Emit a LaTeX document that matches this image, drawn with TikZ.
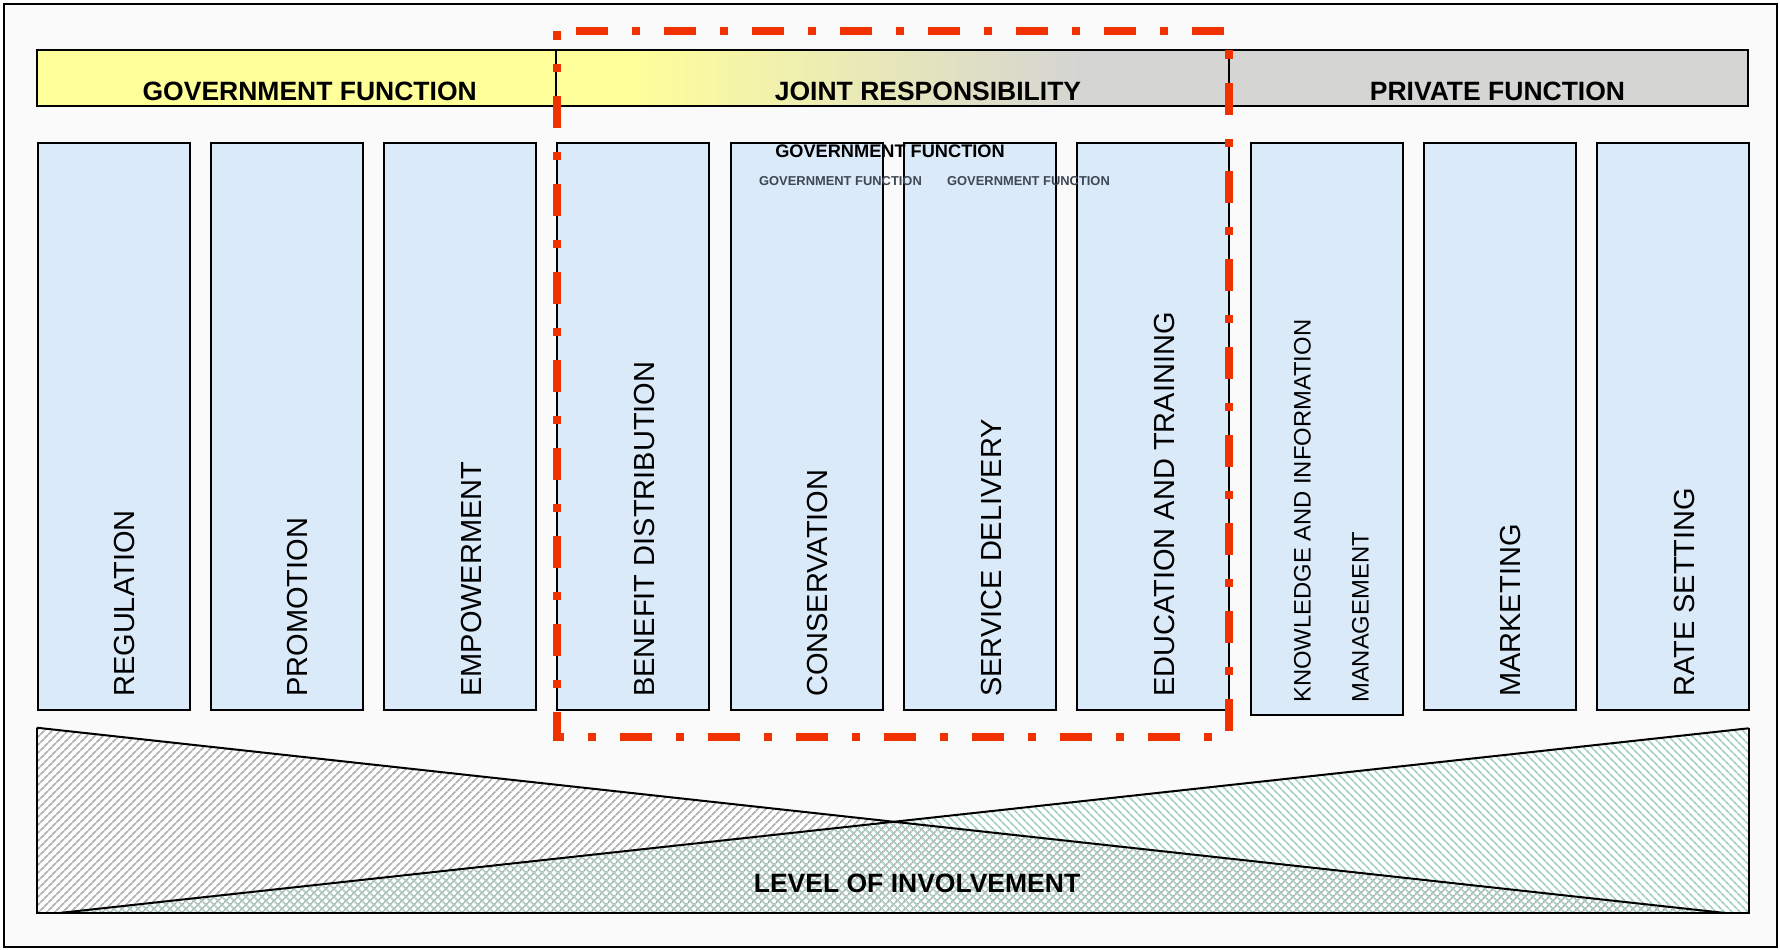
\documentclass[tikz,border=0pt]{standalone}
\usepackage{fontspec}
\setmainfont{Liberation Sans}
\usepackage{xcolor}
\usetikzlibrary{positioning,patterns.meta}

\definecolor{colblue}{HTML}{DBEAF9}
\definecolor{govyellow}{HTML}{FFFF99}
\definecolor{privgray}{HTML}{D5D5D3}
\definecolor{jointred}{HTML}{F03200}
\definecolor{pagegray}{HTML}{FAFAFA}
\definecolor{hatchgray}{HTML}{B2B2B2}
\definecolor{hatchgreen}{HTML}{A8D2BF}
\definecolor{slate}{HTML}{3D4755}

\pgfdeclarehorizontalshading{jointshade}{100bp}{color(0bp)=(govyellow); color(30bp)=(govyellow); color(64bp)=(privgray); color(100bp)=(privgray)}

\begin{document}
\begin{tikzpicture}[
    x=1pt, y=-1pt,
    node distance=21.3pt,
    bar/.style={draw, line width=2pt, minimum height=56pt, inner sep=0pt, outer sep=0pt, anchor=north west},
    colbox/.style={draw, fill=colblue, line width=2pt, minimum width=152pt, minimum height=566.5pt, inner sep=0pt, outer sep=0pt, anchor=north west},
    coltext/.style={rotate=90, anchor=base west, inner sep=0pt, font=\fontsize{29pt}{29pt}\selectfont},
    bartext/.style={anchor=base, inner sep=0pt, font=\fontsize{26.5pt}{26.5pt}\selectfont\bfseries},
    jointframe/.style={draw=jointred, line width=8pt, dash pattern=on 32pt off 24pt on 8pt off 24pt, dash phase=23.5pt}
]
    \useasboundingbox (0,0) rectangle (1780,950);
    \draw[line width=2pt, fill=pagegray] (4,4) rectangle (1777,947);

    \coordinate (lvtl) at (36.7,727.7);
    \coordinate (lvbl) at (36.7,913);
    \coordinate (lvtr) at (1748.6,728.3);
    \coordinate (lvbr) at (1748.6,913);
    \coordinate (lvgovend) at (1725.3,913);
    \coordinate (lvprivstart) at (59.3,913);
    \fill[white] (lvtl) -- (lvgovend) -- (lvbl) -- cycle;
    \fill[white] (lvtr) -- (lvbr) -- (lvprivstart) -- cycle;
    \fill[pattern={Lines[angle=45,distance=5.4pt,line width=2pt]}, pattern color=hatchgray] (lvtl) -- (lvgovend) -- (lvbl) -- cycle;
    \fill[pattern={Lines[angle=-45,distance=5.4pt,line width=2pt]}, pattern color=hatchgreen] (lvtr) -- (lvbr) -- (lvprivstart) -- cycle;
    \draw[line width=2pt] (lvtl) -- (lvbl) -- (lvbr) -- (lvtr);
    \draw[line width=2pt] (lvtl) -- (lvgovend);
    \draw[line width=2pt] (lvprivstart) -- (lvtr);
    \node[bartext] (lvltxt) at (917,892) {LEVEL OF INVOLVEMENT};

    \node[bar, fill=govyellow, minimum width=519pt] (govbar) at (37,50) {};
    \node[bar, shade, shading=jointshade, minimum width=673pt] (jointbar) at (556,50) {};
    \node[bar, fill=privgray, minimum width=519pt] (privbar) at (1229,50) {};
    \node[bartext] (govtxt) at (309.7,100) {GOVERNMENT FUNCTION};
    \node[bartext] (jointtxt) at (928,100) {JOINT RESPONSIBILITY};
    \node[bartext] (privtxt) at (1497.5,100) {PRIVATE FUNCTION};

    \node[colbox] (reg) at (37.5,143) {};
    \node[right=of reg.north east, colbox] (prom) {};
    \node[right=of prom.north east, colbox] (emp) {};
    \node[right=of emp.north east, colbox] (ben) {};
    \node[right=of ben.north east, colbox] (cons) {};
    \node[right=of cons.north east, colbox] (serv) {};
    \node[right=of serv.north east, colbox] (edu) {};
    \node[right=of edu.north east, colbox, minimum height=572pt] (know) {};
    \node[right=of know.north east, colbox] (mkt) {};
    \node[right=of mkt.north east, colbox] (rate) {};

    \node[coltext] (regtxt) at ([shift={(97pt,12.5pt)}]reg.south west) {REGULATION};
    \node[coltext] (promtxt) at ([shift={(97pt,12.5pt)}]prom.south west) {PROMOTION};
    \node[coltext] (emptxt) at ([shift={(97pt,12.5pt)}]emp.south west) {EMPOWERMENT};
    \node[coltext] (bentxt) at ([shift={(97pt,12.5pt)}]ben.south west) {BENEFIT DISTRIBUTION};
    \node[coltext] (constxt) at ([shift={(97pt,12.5pt)}]cons.south west) {CONSERVATION};
    \node[coltext] (servtxt) at ([shift={(97pt,12.5pt)}]serv.south west) {SERVICE DELIVERY};
    \node[coltext] (edutxt) at ([shift={(97pt,12.5pt)}]edu.south west) {EDUCATION AND TRAINING};
    \node[coltext, font=\fontsize{23.8pt}{23.8pt}\selectfont] (knowtxt) at ([shift={(60pt,12pt)}]know.south west) {KNOWLEDGE AND INFORMATION};
    \node[coltext, font=\fontsize{23.8pt}{23.8pt}\selectfont] (knowtxtb) at ([shift={(118pt,12pt)}]know.south west) {MANAGEMENT};
    \node[coltext] (mkttxt) at ([shift={(97pt,12.5pt)}]mkt.south west) {MARKETING};
    \node[coltext] (ratetxt) at ([shift={(97pt,12.5pt)}]rate.south west) {RATE SETTING};

    \node[anchor=base, inner sep=0pt, font=\fontsize{18.2pt}{18.2pt}\selectfont\bfseries] (gfbig) at (890,157) {GOVERNMENT FUNCTION};
    \node[anchor=base, inner sep=0pt, text=slate, font=\fontsize{12.9pt}{12.9pt}\selectfont\bfseries] (gfsmalla) at (840.5,185) {GOVERNMENT FUNCTION};
    \node[anchor=base, inner sep=0pt, text=slate, font=\fontsize{12.9pt}{12.9pt}\selectfont\bfseries] (gfsmallb) at (1028.5,185) {GOVERNMENT FUNCTION};

    \draw[jointframe] (556.5,31.5) rectangle (1229,737);
\end{tikzpicture}
\end{document}
